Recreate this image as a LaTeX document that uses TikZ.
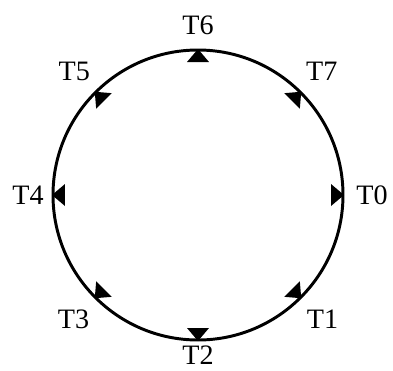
\documentclass[tikz,border=0pt]{standalone}
\usepackage{fontspec}
\setmainfont{Liberation Serif}
\tikzset{
  ring line/.style={draw=black, line width=2.1pt},
  port tip/.style={fill=black, draw=none},
  port label/.style={font=\fontsize{20}{20}\selectfont, inner sep=0pt}
}

\begin{document}
\begin{tikzpicture}[x=0.025cm, y=0.025cm]
  \useasboundingbox (-198,-175) rectangle (195,195);
  \coordinate (hub) at (0,0);
  \draw[ring line] (hub) circle (145);
  % one tip and one label for each of the eight ports
  \foreach \k/\r in {0/174,1/176,2/160,3/176,4/170,5/175,6/170,7/175} {
    \fill[port tip, rotate=-45*\k] (146,0) -- (133,11) -- (133,-11) -- cycle;
    \node[port label] (lab\k) at (-45*\k:\r) {T\k};
  }
\end{tikzpicture}
\end{document}
